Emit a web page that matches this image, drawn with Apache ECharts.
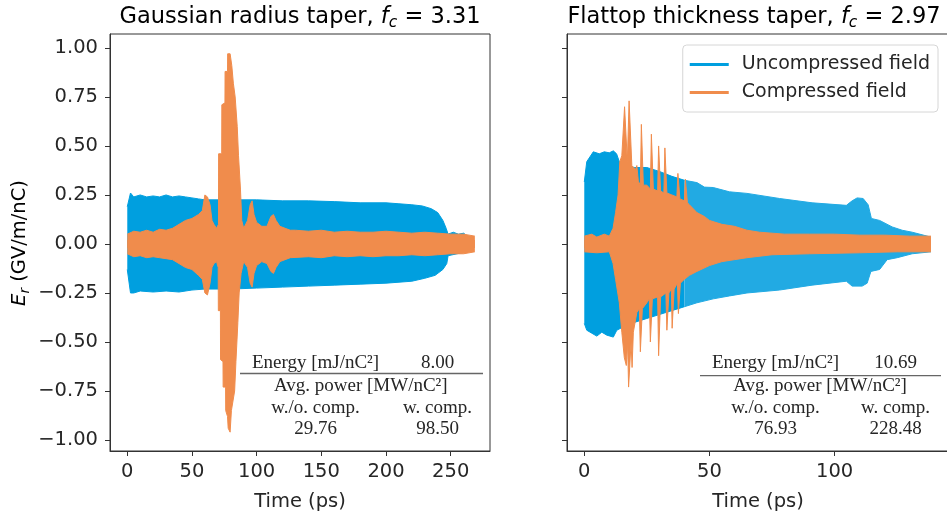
<!DOCTYPE html>
<html><head><meta charset="utf-8">
<script src="https://cdn.jsdelivr.net/npm/echarts@6/dist/echarts.min.js"></script>
<style>html,body{margin:0;padding:0;background:#fff}#c{width:947px;height:513px}</style>
</head><body><div id="c"></div>
<script>
// ---------- data ----------
const xTicksLeft = [0, 50, 100, 150, 200, 250];
const xTicksRight = [0, 50, 100];
const yTicks = [-1, -0.75, -0.5, -0.25, 0, 0.25, 0.5, 0.75, 1];

// Left panel: Gaussian radius taper — envelopes [time ps, field]
const leftBlueUpper = [[0,0.19],[1.5,0.19],[2.5,0.26],[5,0.24],[10,0.25],[15,0.24],[20,0.245],[25,0.24],[30,0.25],[35,0.24],[40,0.245],[45,0.24],[50,0.235],[55,0.23],[60,0.225],[80,0.225],[100,0.225],[120,0.22],[140,0.22],[160,0.216],[180,0.21],[200,0.21],[210,0.205],[220,0.2],[228,0.194],[235,0.18],[240,0.16],[244,0.12],[246.5,0.08],[248,0.05],[252,0.06],[256,0.05],[260,0.055],[263,0.04]];
const leftBlueLower = [[0,-0.13],[1.5,-0.14],[2.5,-0.25],[5,-0.25],[10,-0.24],[20,-0.245],[30,-0.24],[40,-0.245],[50,-0.235],[60,-0.23],[80,-0.23],[100,-0.225],[120,-0.22],[140,-0.215],[160,-0.21],[180,-0.205],[200,-0.2],[220,-0.19],[230,-0.175],[238,-0.16],[244,-0.13],[247,-0.1],[248,-0.06],[255,-0.05],[262,-0.04]];
const leftOrangeUpper = [[0,0.05],[5,0.065],[10,0.06],[15,0.07],[20,0.06],[25,0.075],[30,0.07],[35,0.08],[40,0.1],[45,0.12],[50,0.13],[55,0.15],[58,0.17],[60,0.25],[62,0.24],[64,0.2],[65.5,0.12],[67,0.1],[69,0.08],[70.5,0.1],[70.6,0.46],[73,0.46],[73.1,0.71],[75.5,0.72],[75.6,0.88],[77.5,0.88],[77.6,0.97],[79.5,0.97],[80.8,0.91],[82,0.82],[83.4,0.75],[85,0.6],[86,0.45],[87.5,0.28],[88.5,0.12],[90,0.08],[93,0.12],[95,0.2],[96.5,0.22],[98,0.15],[100,0.11],[104,0.09],[108,0.09],[111,0.14],[113,0.15],[115,0.12],[118,0.09],[122,0.08],[126,0.07],[130,0.07],[140,0.065],[150,0.07],[160,0.06],[170,0.065],[180,0.06],[190,0.06],[200,0.065],[210,0.06],[220,0.055],[230,0.06],[240,0.055],[250,0.05],[260,0.05],[268.7,0.04]];
const leftOrangeLower = [[0,-0.05],[5,-0.065],[10,-0.06],[15,-0.07],[20,-0.065],[25,-0.07],[30,-0.075],[35,-0.08],[40,-0.1],[45,-0.12],[50,-0.13],[55,-0.16],[58,-0.18],[60,-0.25],[62,-0.26],[64,-0.2],[65.5,-0.12],[67,-0.1],[69,-0.09],[70.3,-0.12],[70.4,-0.34],[72,-0.34],[72.1,-0.59],[74,-0.6],[74.1,-0.73],[76,-0.73],[76.1,-0.85],[77.5,-0.88],[78,-0.94],[79.5,-0.96],[80.5,-0.85],[83,-0.75],[84,-0.6],[85.5,-0.4],[86.5,-0.25],[88,-0.15],[90,-0.09],[93,-0.12],[95,-0.2],[96.5,-0.22],[98,-0.15],[100,-0.11],[104,-0.09],[108,-0.1],[111,-0.14],[113,-0.15],[115,-0.12],[118,-0.09],[122,-0.08],[126,-0.07],[140,-0.065],[150,-0.07],[160,-0.06],[170,-0.065],[180,-0.06],[190,-0.065],[200,-0.06],[210,-0.06],[220,-0.055],[230,-0.06],[240,-0.055],[250,-0.05],[260,-0.05],[268.7,-0.04]];

// Right panel: Flattop thickness taper
const rightBlueUpperSolid = [[0,0.316],[1,0.42],[3.6,0.47],[6,0.46],[8,0.47],[10,0.465],[11.6,0.475],[12.9,0.46],[14,0.42],[16,0.4],[20,0.39],[25,0.39],[30,0.37],[35,0.345],[40,0.325]];
const rightBlueUpperStriped = [[40,0.325],[45,0.313],[48,0.29],[51.5,0.288],[58,0.266],[65,0.258],[78,0.232],[91,0.21],[104.7,0.197],[107,0.22],[109,0.235],[111.4,0.232],[113.4,0.2],[114.7,0.13],[118,0.12],[123,0.087],[127,0.07],[131,0.06],[138.5,0.035]];
const rightBlueLowerSolid = [[0,-0.405],[1,-0.44],[3,-0.455],[5,-0.47],[7,-0.45],[9,-0.465],[11.6,-0.475],[13,-0.44],[16,-0.42],[20,-0.4],[25,-0.38],[30,-0.36],[35,-0.34],[40,-0.32]];
const rightBlueLowerStriped = [[40,-0.32],[45,-0.3],[51.5,-0.28],[58,-0.265],[65,-0.25],[78,-0.235],[91,-0.21],[104.7,-0.19],[107,-0.215],[111,-0.215],[113,-0.2],[114.5,-0.14],[118,-0.13],[121,-0.08],[125,-0.07],[131,-0.05],[138.5,-0.04]];
const rightOrangeUpper = [[0,0.04],[3,0.05],[5,0.035],[8,0.05],[10,0.04],[11.5,0.08],[12.5,0.16],[13.5,0.25],[14.2,0.42],[15,0.45],[15.6,0.46],[16.1,0.7],[16.7,0.7],[17.2,0.42],[17.5,0.42],[17.9,0.73],[18.5,0.73],[19,0.4],[20.5,0.38],[21,0.4],[21.6,0.32],[22.4,0.3],[22.8,0.61],[23.2,0.61],[23.6,0.3],[25,0.3],[26.4,0.28],[26.8,0.56],[27.2,0.56],[27.6,0.28],[29.3,0.27],[29.7,0.5],[30.1,0.5],[30.5,0.27],[31.8,0.26],[32.2,0.49],[32.6,0.49],[33,0.26],[35,0.25],[37,0.24],[37.4,0.36],[37.8,0.36],[38.2,0.23],[40,0.22],[40.4,0.33],[40.8,0.33],[41.2,0.21],[42,0.2],[45,0.16],[48,0.14],[50,0.12],[55,0.1],[60,0.09],[65,0.07],[70,0.06],[80,0.05],[90,0.05],[100,0.05],[110,0.045],[120,0.045],[130,0.04],[138.5,0.04]];
const rightOrangeLower = [[0,-0.04],[5,-0.045],[10,-0.04],[11.5,-0.1],[12.5,-0.18],[14,-0.3],[15,-0.45],[16,-0.58],[16.8,-0.62],[17.3,-0.5],[17.7,-0.73],[18.3,-0.73],[18.7,-0.5],[19.1,-0.63],[19.6,-0.45],[21,-0.35],[22,-0.33],[22.4,-0.55],[22.8,-0.55],[23.2,-0.33],[25,-0.3],[26,-0.28],[26.4,-0.5],[26.8,-0.5],[27.2,-0.28],[29.3,-0.27],[29.7,-0.57],[30.1,-0.57],[30.5,-0.27],[32.6,-0.25],[33,-0.44],[33.4,-0.44],[33.8,-0.25],[34.8,-0.23],[35.1,-0.43],[35.5,-0.43],[35.9,-0.23],[37.2,-0.2],[37.6,-0.355],[38,-0.355],[38.4,-0.2],[40,-0.18],[42,-0.16],[45,-0.14],[50,-0.11],[55,-0.09],[60,-0.08],[65,-0.07],[75,-0.055],[90,-0.05],[110,-0.045],[125,-0.04],[138.5,-0.04]];

const tableLeft = {energy: '8.00', without: '29.76', with: '98.50'};
const tableRight = {energy: '10.69', without: '76.93', with: '228.48'};
const titles = ['Gaussian radius taper, ', 'Flattop thickness taper, '];
const fcValues = ['3.31', '2.97'];

// ---------- styling ----------
const BLUE = '#009fdf', BLUE_STRIPED = '#22aae3', ORANGE = '#f08c4c', INK = '#262626';
const SANS = 'DejaVu Sans', SERIF = 'Liberation Serif';
const FS = 19.5;
const chart = echarts.init(document.getElementById('c'), null, {renderer: 'canvas'});

const fmtY = v => (v < 0 ? '\u2212' + Math.abs(v).toFixed(2) : v.toFixed(2));

// upper envelopes are filled slightly past zero so the two halves overlap without a seam
function band(name, data, color, gi, z, upper) {
  return {name, type: 'line', xAxisIndex: gi, yAxisIndex: gi, data, showSymbol: false, symbol: 'none',
    lineStyle: {color, width: 1}, itemStyle: {color},
    areaStyle: {color, opacity: 1, origin: upper ? -0.02 : 0.02}, silent: true, z, animation: false};
}

const xAxisBase = (gi, min, max, ticks) => ({
  type: 'value', gridIndex: gi, min, max, splitLine: {show: false},
  axisLine: {show: true, onZero: false, lineStyle: {color: '#333', width: 1}},
  axisTick: {show: true, length: 5, lineStyle: {color: '#333'}, customValues: ticks},
  axisLabel: {show: true, fontFamily: SANS, fontSize: FS, color: INK, margin: 11, customValues: ticks},
  name: 'Time (ps)', nameLocation: 'middle', nameGap: 41,
  nameTextStyle: {fontFamily: SANS, fontSize: FS, color: INK}
});
const yAxisBase = (gi, showLabels) => ({
  type: 'value', gridIndex: gi, min: -1.056, max: 1.071, splitLine: {show: false},
  axisLine: {show: true, onZero: false, lineStyle: {color: '#333', width: 1}},
  axisTick: {show: true, length: 5, lineStyle: {color: '#333'}, customValues: yTicks},
  axisLabel: {show: showLabels, fontFamily: SANS, fontSize: FS, color: INK, margin: 12, customValues: yTicks, formatter: fmtY}
});

const titleRich = {
  a: {fontFamily: SANS, fontSize: 22.5, color: INK},
  i: {fontFamily: SANS, fontSize: 22.5, fontStyle: 'italic', color: INK},
  s: {fontFamily: SANS, fontSize: 15.5, fontStyle: 'italic', color: INK, padding: [12, 0, 0, 0]}
};
function tableTexts(cxL, cxR, cxMid, lineX0, lineX1, lineY, t) {
  const st = (text, x, y) => ({type: 'text', x, y, silent: true,
    style: {text, fill: INK, font: '19px "' + SERIF + '"', align: 'center', verticalAlign: 'middle'}});
  return [
    st('Energy [mJ/nC\u00b2]', cxL, 363), st(t.energy, cxR, 363),
    {type: 'line', silent: true, shape: {x1: lineX0, y1: lineY, x2: lineX1, y2: lineY}, style: {stroke: '#666', lineWidth: 1.3}},
    st('Avg. power [MW/nC\u00b2]', cxMid, 386),
    st('w./o. comp.', cxL, 408), st('w. comp.', cxR, 408),
    st(t.without, cxL, 429.5), st(t.with, cxR, 429.5)
  ];
}

chart.setOption({
  animation: false,
  grid: [
    {left: 110, top: 34, width: 380, height: 417, outerBoundsMode: 'none', containLabel: false, show: true, borderColor: '#333', borderWidth: 1, backgroundColor: 'transparent'},
    {left: 567, top: 34, width: 382, height: 417, outerBoundsMode: 'none', containLabel: false, show: true, borderColor: '#333', borderWidth: 1, backgroundColor: 'transparent'}
  ],
  xAxis: [xAxisBase(0, -13.35, 280.4, xTicksLeft), xAxisBase(1, -6.9, 145.7, xTicksRight)],
  yAxis: [yAxisBase(0, true), yAxisBase(1, false)],
  legend: {
    right: 9, top: 45, orient: 'vertical', itemWidth: 39, itemHeight: 3, itemGap: 9,
    padding: [10, 8, 10, 7], backgroundColor: '#fff', borderColor: '#d6d6d6', borderWidth: 1, borderRadius: 4,
    textStyle: {fontFamily: SANS, fontSize: 19, color: INK, padding: [0, 0, 0, 8]},
    data: [{name: 'Uncompressed field', icon: 'rect'}, {name: 'Compressed field', icon: 'rect'}],
    selectedMode: false
  },
  series: [
    band('Uncompressed field', leftBlueUpper, BLUE, 0, 1, true),
    band('Uncompressed field', leftBlueLower, BLUE, 0, 1, false),
    band('Compressed field', leftOrangeUpper, ORANGE, 0, 2, true),
    band('Compressed field', leftOrangeLower, ORANGE, 0, 2, false),
    band('Uncompressed field', rightBlueUpperSolid, BLUE, 1, 1, true),
    band('Uncompressed field', rightBlueLowerSolid, BLUE, 1, 1, false),
    band('Uncompressed field', rightBlueUpperStriped, BLUE_STRIPED, 1, 1, true),
    band('Uncompressed field', rightBlueLowerStriped, BLUE_STRIPED, 1, 1, false),
    band('Compressed field', rightOrangeUpper, ORANGE, 1, 2, true),
    band('Compressed field', rightOrangeLower, ORANGE, 1, 2, false)
  ],
  graphic: [
    {type: 'text', x: 300, y: 17, silent: true, style: {text: '{a|' + titles[0] + '}{i|f}{s|c}{a| = ' + fcValues[0] + '}', align: 'center', verticalAlign: 'middle', rich: titleRich}},
    {type: 'text', x: 754, y: 17, silent: true, style: {text: '{a|' + titles[1] + '}{i|f}{s|c}{a| = ' + fcValues[1] + '}', align: 'center', verticalAlign: 'middle', rich: titleRich}},
    {type: 'text', x: 20, y: 243, rotation: Math.PI / 2, silent: true, style: {text: '{i|E}{s|r}{a| (GV/m/nC)}', align: 'center', verticalAlign: 'middle',
      rich: {a: {fontFamily: SANS, fontSize: FS, color: INK}, i: {fontFamily: SANS, fontSize: FS, fontStyle: 'italic', color: INK}, s: {fontFamily: SANS, fontSize: 13.5, fontStyle: 'italic', color: INK, padding: [10, 0, 0, 0]}}}},
    ...tableTexts(315.5, 437.5, 360.8, 240, 483, 373.5, tableLeft),
    ...tableTexts(775.5, 895.5, 820, 700, 941, 375.7, tableRight)
  ]
});
</script></body></html>
